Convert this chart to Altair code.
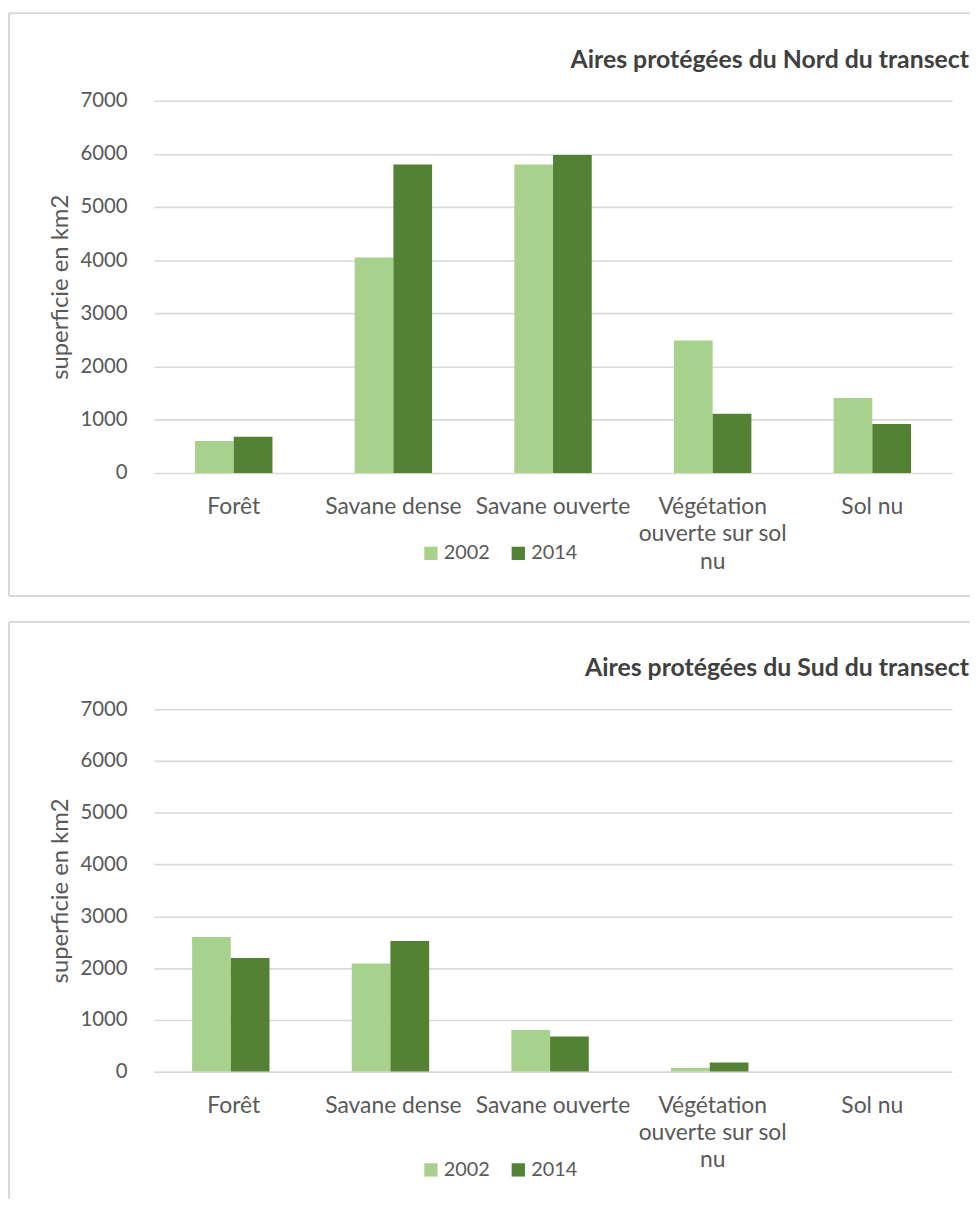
import altair as alt
import pandas as pd

categories = ["Forêt", "Savane dense", "Savane ouverte", "Végétation ouverte sur sol nu", "Sol nu"]
years = ["2002", "2014"]
nord_2002 = [600, 4050, 5800, 2490, 1410]
nord_2014 = [680, 5800, 5980, 1115, 920]
sud_2002 = [2600, 2090, 805, 75, 0]
sud_2014 = [2195, 2525, 680, 175, 0]
titles = ["Aires protégées du Nord du transect", "Aires protégées du Sud du transect"]
y_title = "superficie en km2"
y_ticks = [0, 1000, 2000, 3000, 4000, 5000, 6000, 7000]
colors = ["#A9D18E", "#548235"]

TEXT = "#595959"
GRID = "#D9D9D9"
W = 804


def frame_df(a, b):
    rows = []
    for c, v1, v2 in zip(categories, a, b):
        rows.append({"cat": c, "year": years[0], "val": v1})
        rows.append({"cat": c, "year": years[1], "val": v2})
    return pd.DataFrame(rows)


label_expr = ("datum.value == 'Végétation ouverte sur sol nu' ? "
              "['Végétation', 'ouverte sur sol', 'nu'] : datum.label")


def panel(df, title, H, pin, pout, legend_y, frame_bottom, draw_bottom):
    one = alt.Data(values=[{}])
    bars = alt.Chart(df).mark_bar().encode(
        x=alt.X("cat:N", sort=categories,
                scale=alt.Scale(paddingInner=pin, paddingOuter=pout),
                axis=alt.Axis(title=None, labelAngle=0, labelExpr=label_expr,
                              labelFontSize=23, labelColor=TEXT, labelPadding=23,
                              labelLineHeight=27.5, labelBaseline="top",
                              labelOverlap=False, labelLimit=300,
                              ticks=False, domain=False, grid=False)),
        xOffset=alt.XOffset("year:N", sort=years),
        y=alt.Y("val:Q", scale=alt.Scale(domain=[0, 7000], nice=False),
                axis=alt.Axis(title=y_title, values=y_ticks, format="d",
                              labelFontSize=20.5,
                              labelColor=TEXT, labelPadding=27, ticks=False,
                              domain=False, grid=True, gridColor=GRID,
                              gridWidth=1.6, titleFontSize=24,
                              titleFontWeight="normal", titleColor=TEXT,
                              titlePadding=8)),
        color=alt.Color("year:N", sort=years,
                        scale=alt.Scale(domain=years, range=colors),
                        legend=alt.Legend(title=None, orient="none",
                                          direction="horizontal",
                                          legendX=269, legendY=legend_y,
                                          symbolType="square", symbolSize=180,
                                          symbolStrokeWidth=0,
                                          labelFontSize=20, labelColor=TEXT,
                                          labelOffset=3, columnPadding=18,
                                          padding=0)),
    )
    ttl = alt.Chart(one).mark_text(
        text=title, font="Lato", fontSize=25, fontWeight="bold", color="#404040",
        align="right", baseline="middle"
    ).encode(x=alt.value(821), y=alt.value(-41))
    top = alt.Chart(one).mark_rule(color=GRID, strokeWidth=2).encode(
        x=alt.value(-146), x2=alt.value(822), y=alt.value(-88))
    left = alt.Chart(one).mark_rule(color=GRID, strokeWidth=2).encode(
        x=alt.value(-146), y=alt.value(-88), y2=alt.value(frame_bottom))
    layers = [top, left]
    if draw_bottom:
        bottom = alt.Chart(one).mark_rule(color=GRID, strokeWidth=2).encode(
            x=alt.value(-146), x2=alt.value(822), y=alt.value(frame_bottom))
        layers.append(bottom)
    return alt.layer(bars, ttl, *layers).properties(width=W, height=H)


p1 = panel(frame_df(nord_2002, nord_2014), titles[0], 375, 0.515, 0.2575, 446, 499, True)
p2 = panel(frame_df(sud_2002, sud_2014), titles[1], 365, 0.478, 0.239, 454, 493, False)

chart = alt.vconcat(p1, p2, spacing=24).properties(
    padding={"left": 0, "top": 0, "right": 0, "bottom": 0}
).configure(font="Lato").configure_view(stroke=None).resolve_scale(color="independent")

chart.save("out.html", embed_options={"renderer": "svg", "actions": False})
